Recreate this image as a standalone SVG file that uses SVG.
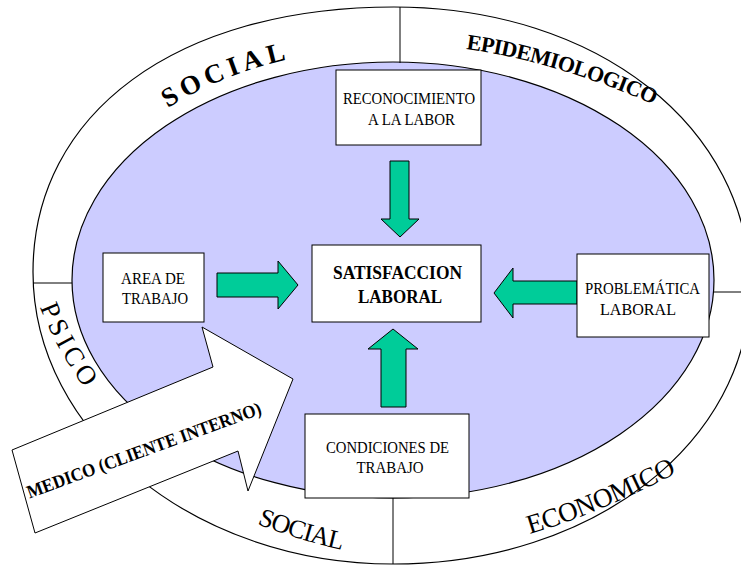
<svg xmlns="http://www.w3.org/2000/svg" width="741" height="567" viewBox="0 0 741 567">
  <style>
    .ring { fill: #ffffff; stroke: #000000; stroke-width: 1.2; }
    .core { fill: #ccccff; stroke: #000000; stroke-width: 1.2; }
    .divider { stroke: #000000; stroke-width: 1; fill: none; }
    .box { fill: #ffffff; stroke: #000000; stroke-width: 1; }
    .flow { fill: #00cc99; stroke: #000000; stroke-width: 1; stroke-linejoin: miter; }
    .big { fill: #ffffff; stroke: #000000; stroke-width: 1; }
    .lbl { font-family: "Liberation Serif", "Times New Roman", serif; font-size: 17.5px; fill: #000000; text-anchor: middle; }
    .lblb { font-family: "Liberation Serif", "Times New Roman", serif; font-size: 18.5px; font-weight: bold; fill: #000000; text-anchor: middle; }
    .area { font-family: "Liberation Serif", "Times New Roman", serif; fill: #000000; }
  </style>
  <defs>
    <path id="p-social-top" d="M168,108 A336,233 0 0 1 508,61"/>
    <path id="p-epi" d="M466,49 Q560,62 666,110"/>
    <path id="p-psico" d="M40,307 Q58,354 92,398"/>
    <path id="p-social-bot" d="M257,524 Q300,541 352,552"/>
    <path id="p-eco" d="M530,534 Q604,512 690,466"/>
  </defs>

  <rect x="0" y="0" width="741" height="567" fill="#ffffff"/>

  <!-- outer ring and inner field -->
  <g id="ring">
    <path class="ring" d="M33,272 C33,113 177,7 394,7 C597,7 750,127 750,287 C750,442 593,564 393,564 C195,564 33,433 33,272 Z"/>
    <ellipse class="core" cx="393" cy="280" rx="321" ry="218"/>
    <line class="divider" x1="400" y1="7" x2="400" y2="63"/>
    <line class="divider" x1="393" y1="498" x2="393" y2="564"/>
    <line class="divider" x1="33" y1="283" x2="72" y2="283"/>
    <line class="divider" x1="714" y1="292" x2="741" y2="292"/>
  </g>

  <!-- sector names around the ring -->
  <g id="sectors" class="area">
    <text font-size="27" font-weight="bold" letter-spacing="5"><textPath href="#p-social-top">SOCIAL</textPath></text>
    <text font-size="22" font-weight="bold" letter-spacing="-0.6"><textPath href="#p-epi">EPIDEMIOLOGICO</textPath></text>
    <text font-size="27" letter-spacing="4"><textPath href="#p-psico">PSICO</textPath></text>
    <text font-size="26" letter-spacing="-1"><textPath href="#p-social-bot">SOCIAL</textPath></text>
    <text font-size="27" letter-spacing="-0.5"><textPath href="#p-eco">ECONOMICO</textPath></text>
  </g>

  <!-- green flow arrows -->
  <g id="connectors">
    <polygon class="flow" points="390,161 409,161 409,219 419,219 400,237 381,219 390,219"/>
    <polygon class="flow" points="217,273 278,273 278,261 298,285 278,309 278,297 217,297"/>
    <polygon class="flow" points="577,281 513,281 513,268 494,293 513,318 513,304 577,304"/>
    <polygon class="flow" points="381,407 381,349 368,349 393,329 418,349 406,349 406,407"/>
  </g>

  <g id="reconocimiento">
    <rect class="box" x="336" y="70" width="145" height="75"/>
    <text class="lbl" x="409" y="104" textLength="132" lengthAdjust="spacingAndGlyphs">RECONOCIMIENTO</text>
    <text class="lbl" x="411.5" y="125" textLength="87" lengthAdjust="spacingAndGlyphs">A LA LABOR</text>
  </g>

  <g id="satisfaccion">
    <rect class="box" x="312" y="245" width="169" height="77"/>
    <text class="lblb" x="397.5" y="279" textLength="129" lengthAdjust="spacingAndGlyphs">SATISFACCION</text>
    <text class="lblb" x="400" y="303" textLength="84" lengthAdjust="spacingAndGlyphs">LABORAL</text>
  </g>

  <g id="area-trabajo">
    <rect class="box" x="103" y="253" width="101" height="69"/>
    <text class="lbl" x="153" y="284" textLength="64" lengthAdjust="spacingAndGlyphs">AREA DE</text>
    <text class="lbl" x="155" y="304" textLength="66" lengthAdjust="spacingAndGlyphs">TRABAJO</text>
  </g>

  <g id="problematica">
    <rect class="box" x="577" y="254" width="132" height="83"/>
    <text class="lbl" x="642.5" y="294" textLength="115" lengthAdjust="spacingAndGlyphs">PROBLEMÁTICA</text>
    <text class="lbl" x="638" y="315" textLength="76" lengthAdjust="spacingAndGlyphs">LABORAL</text>
  </g>

  <g id="condiciones">
    <rect class="box" x="305" y="414" width="164" height="84"/>
    <text class="lbl" x="387.5" y="453" textLength="123" lengthAdjust="spacingAndGlyphs">CONDICIONES DE</text>
    <text class="lbl" x="390" y="473" textLength="67" lengthAdjust="spacingAndGlyphs">TRABAJO</text>
  </g>

  <g id="medico">
    <polygon class="big" points="12,450 213,367 202,327 293,379 248,491 238,451 35,533"/>
    <text class="lblb" x="146" y="456" font-size="21" textLength="248" lengthAdjust="spacingAndGlyphs" transform="rotate(-20 146 456)">MEDICO (CLIENTE INTERNO)</text>
  </g>
</svg>
